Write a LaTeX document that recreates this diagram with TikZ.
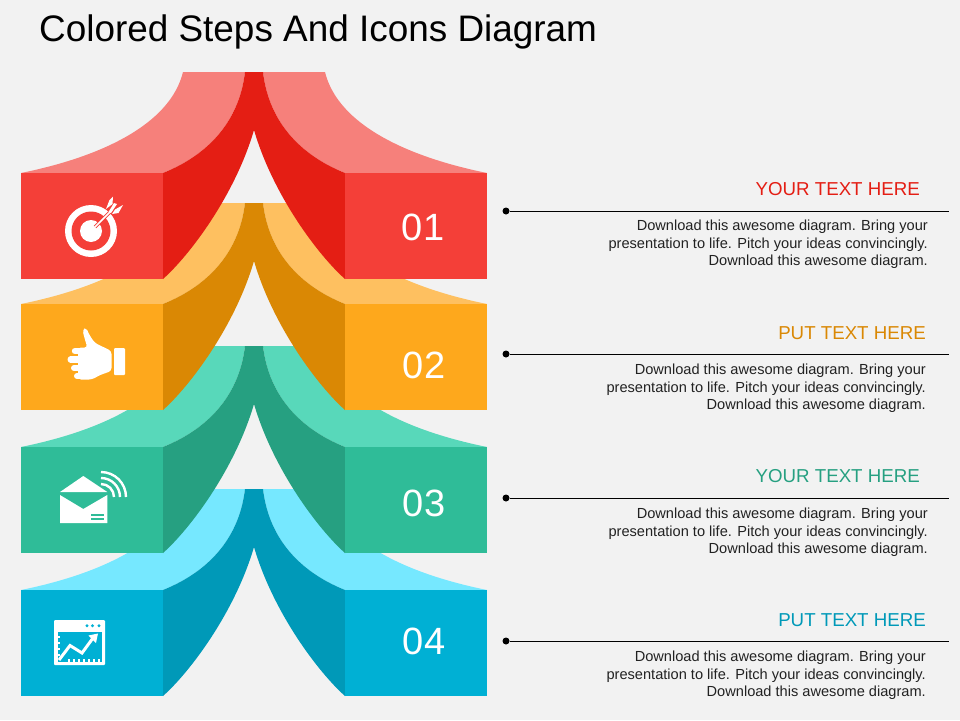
\documentclass[tikz,border=0pt]{standalone}
\usepackage{fontspec}
\setmainfont{Liberation Sans}
\usetikzlibrary{positioning}
\definecolor{pagebg}{RGB}{242,242,242}
\definecolor{redbox}{RGB}{244,63,56}
\definecolor{reddark}{RGB}{228,30,20}
\definecolor{redlight}{RGB}{246,128,123}
\definecolor{orgbox}{RGB}{254,168,28}
\definecolor{orgdark}{RGB}{218,136,4}
\definecolor{orglight}{RGB}{254,192,96}
\definecolor{teabox}{RGB}{47,188,152}
\definecolor{teadark}{RGB}{38,160,129}
\definecolor{tealight}{RGB}{88,216,186}
\definecolor{blubox}{RGB}{0,176,212}
\definecolor{bludark}{RGB}{0,153,184}
\definecolor{blulight}{RGB}{118,232,255}
\definecolor{bodytxt}{RGB}{34,34,34}
\tikzset{
  stepbox/.style={minimum width=142pt,minimum height=106pt,inner sep=0pt,outer sep=0pt},
  numtxt/.style={text=white,inner sep=0pt,font=\fontsize{38}{38}\selectfont},
  headtxt/.style={anchor=east,inner sep=0pt,font=\fontsize{18.7}{18.7}\selectfont},
  bodyblock/.style={anchor=north east,align=right,inner sep=0pt,text=bodytxt,font=\fontsize{14.6}{17.4}\selectfont},
  enddot/.style={circle,fill=black,inner sep=0pt,minimum size=7pt},
  icon/.style={fill=white,draw=none},
}
% top y, number, box colour, dark colour, light colour
\newcommand{\colorstep}[5]{
  \begin{scope}[shift={(0,#1)}]
    \fill[#5] (21,101) .. controls (100,85) and (170,53) .. (183,0) -- (245,0) .. controls (240,43) and (215,80) .. (163,101) -- cycle;
    \fill[#5] (487,101) .. controls (408,85) and (338,53) .. (325,0) -- (263,0) .. controls (268,43) and (293,80) .. (345,101) -- cycle;
    \fill[#4] (163,101) .. controls (215,80) and (240,43) .. (245,0) -- (263,0) .. controls (268,43) and (293,80) .. (345,101)
      -- (345,207) .. controls (318,183) and (273,123) .. (254,58) .. controls (235,123) and (190,183) .. (163,207) -- cycle;
    \node[stepbox,fill=#3,anchor=north west] (l#2) at (21,101) {};
    \node[stepbox,fill=#3,right=182pt of l#2] (r#2) {};
  \end{scope}
}
\begin{document}
\begin{tikzpicture}[x=1pt,y=-1pt]
  \useasboundingbox[fill=pagebg] (0,0) rectangle (960,720);
  \node[anchor=west,inner sep=0pt,font=\fontsize{36.9}{36.9}\selectfont] (title) at (39,32) {Colored Steps And Icons Diagram};

  \colorstep{489}{4}{blubox}{bludark}{blulight}
  \colorstep{346}{3}{teabox}{teadark}{tealight}
  \colorstep{203}{2}{orgbox}{orgdark}{orglight}
  \colorstep{72}{1}{redbox}{reddark}{redlight}

  \node[numtxt] (n1) at (423,227) {01};
  \node[numtxt] (n2) at (424,365) {02};
  \node[numtxt] (n3) at (424,503) {03};
  \node[numtxt] (n4) at (424,641) {04};

  % target
  \fill[icon] (91,231) circle (26);
  \fill[redbox] (91,231) circle (19.5);
  \fill[icon] (91,231) circle (11);
  \draw[redbox,line width=3.4pt] (95,227) -- (110,212);
  \draw[white,line width=1.5pt] (91,231) -- (112,210);
  \fill[icon] (106,209) -- (109.5,200) -- (113,196.5) -- (112.5,204) -- cycle;
  \fill[icon] (112,214) -- (115,209.5) -- (123,205) -- (118.5,213) -- cycle;
  \fill[icon] (108.5,212) -- (114,203) -- (117,204) -- (111,213) -- cycle;

  % thumb
  \fill[icon,rounded corners=1pt] (114,348) rectangle (125,375);
  \fill[icon,rounded corners=3pt] (82.5,330) -- (86,327.5) -- (90,336) -- (95,343) -- (111.5,351) -- (111.5,371) -- (100,375)
    -- (92,379.5) -- (78,379.5) -- (78,347.5) -- (87.5,347.5) -- (85,340) -- cycle;
  \draw[white,line width=6.4pt,line cap=round] (75,351) -- (85,351);
  \draw[white,line width=6.4pt,line cap=round] (70.7,359.5) -- (85,359.5);
  \draw[white,line width=6pt,line cap=round] (74,368) -- (85,368);
  \draw[white,line width=6pt,line cap=round] (77,376) -- (85,376);

  % envelope
  \fill[icon] (60,492) -- (83.3,476) -- (107.3,492) -- cycle;
  \fill[icon] (60,495) -- (83.3,509) -- (107.3,495) -- (107.3,523) -- (60,523) -- cycle;
  \fill[teabox] (90.5,514) rectangle (104,516);
  \fill[teabox] (90.5,518) rectangle (104,520);
  \draw[white,line width=2.4pt] (101,472) arc (-90:0:25);
  \draw[white,line width=2.4pt] (101,478) arc (-90:0:19);
  \draw[white,line width=2.4pt] (101,484) arc (-90:0:13);

  % chart
  \fill[icon,rounded corners=1pt] (54,620) rectangle (105,665);
  \fill[blubox] (57.5,632) rectangle (101.5,661.5);
  \foreach \dx in {87,92.5,99}
    \fill[blubox] (\dx,625.7) circle (1.7);
  \foreach \tx in {68,73,78,83,88,93,98}
    \fill[icon] (\tx,658.5) rectangle (\tx+1.5,661.5);
  \foreach \ty in {636,642,648,654}
    \fill[icon] (57.5,\ty) rectangle (60,\ty+1.5);
  \draw[white,line width=3pt] (59,660) -- (70,645.5) -- (82,653) -- (93,638);
  \fill[icon] (98,633.5) -- (88.5,635.5) -- (96,643) -- cycle;

  % right side
  \node[enddot] (d1) at (506,211) {};
  \node[enddot] (d2) at (506,354) {};
  \node[enddot] (d3) at (506,498) {};
  \node[enddot] (d4) at (506,641) {};
  \coordinate (e1) at (949,211);
  \coordinate (e2) at (949,354);
  \coordinate (e3) at (949,498);
  \coordinate (e4) at (949,641);
  \draw[line width=1pt] (d1) -- (e1);
  \draw[line width=1pt] (d2) -- (e2);
  \draw[line width=1pt] (d3) -- (e3);
  \draw[line width=1pt] (d4) -- (e4);

  \node[headtxt,text=reddark] (h1) at (920,189) {YOUR TEXT HERE};
  \node[headtxt,text=orgdark] (h2) at (926,333) {PUT TEXT HERE};
  \node[headtxt,text=teadark] (h3) at (920,476) {YOUR TEXT HERE};
  \node[headtxt,text=bludark] (h4) at (926,620) {PUT TEXT HERE};

  \node[bodyblock] (t1) at (928,220) {Download this awesome diagram. Bring your\\presentation to life. Pitch your ideas convincingly.\\Download this awesome diagram.};
  \node[bodyblock] (t2) at (926,364) {Download this awesome diagram. Bring your\\presentation to life. Pitch your ideas convincingly.\\Download this awesome diagram.};
  \node[bodyblock] (t3) at (928,508) {Download this awesome diagram. Bring your\\presentation to life. Pitch your ideas convincingly.\\Download this awesome diagram.};
  \node[bodyblock] (t4) at (926,651) {Download this awesome diagram. Bring your\\presentation to life. Pitch your ideas convincingly.\\Download this awesome diagram.};
\end{tikzpicture}
\end{document}
